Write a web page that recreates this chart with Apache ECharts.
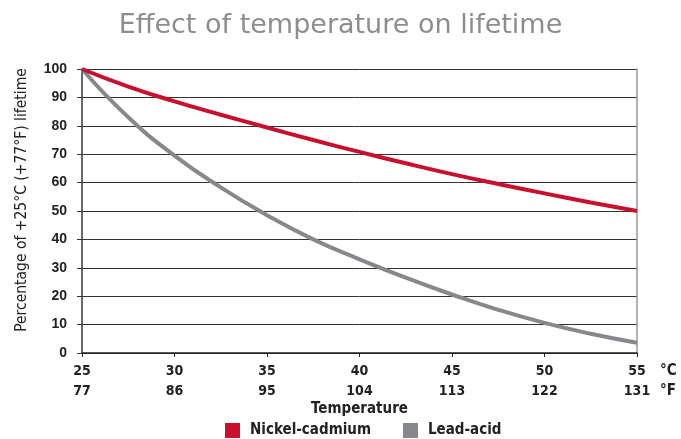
<!DOCTYPE html>
<html>
<head>
<meta charset="utf-8">
<script src="https://cdn.jsdelivr.net/npm/echarts@6/dist/echarts.min.js"></script>
<style>html,body{margin:0;padding:0;background:#fff}#c{width:681px;height:439px}</style>
</head>
<body>
<div id="c"></div>
<script>
var temps = [25, 27.5, 30, 32.5, 35, 37.5, 40, 42.5, 45, 47.5, 50, 52.5, 55];
var nickelCadmium = [100, 93.8, 88.6, 83.9, 79.4, 75.0, 70.8, 66.8, 63.0, 59.5, 56.2, 53.0, 50.0];
var leadAcid = [100, 83.0, 69.5, 58.3, 48.5, 40.0, 33.0, 26.5, 20.6, 15.2, 10.6, 6.8, 3.6];
var tickC = [25, 30, 35, 40, 45, 50, 55];
var tickF = [77, 86, 95, 104, 113, 122, 131];

var FONT = '"Liberation Sans Narrow","DejaVu Sans Condensed","Roboto",sans-serif';
function pairs(ys){ return temps.map(function(t,i){ return [t, ys[i]]; }); }

var chart = echarts.init(document.getElementById('c'));
chart.setOption({
  animation: false,
  title: {
    text: 'Effect of temperature on lifetime',
    left: 'center', top: 7,
    textStyle: { fontFamily: '"DejaVu Sans", sans-serif', fontSize: 27, fontWeight: 'normal', color: '#8c8d90' }
  },
  grid: { left: 82, right: 44, top: 69, bottom: 86 },
  legend: {
    bottom: -4, left: 220, icon: 'rect', itemWidth: 15, itemHeight: 15, itemGap: 32,
    textStyle: { fontFamily: FONT, fontSize: 15, fontWeight: 'bold', color: '#222', padding: [0, 0, 0, 5] },
    data: ['Nickel-cadmium', 'Lead-acid']
  },
  xAxis: {
    type: 'value', min: 25, max: 55, interval: 5,
    name: 'Temperature', nameLocation: 'middle', nameGap: 49, nameMoveOverlap: false,
    nameTextStyle: { fontFamily: FONT, fontSize: 15, fontWeight: 'bold', color: '#222' },
    axisLine: { lineStyle: { color: '#222', width: 1.5 } },
    axisTick: { show: true, length: 4, lineStyle: { color: '#222' } },
    splitLine: { show: false },
    axisLabel: {
      fontFamily: FONT, fontSize: 14, fontWeight: 'bold', color: '#222', lineHeight: 20, margin: 8,
      formatter: function (v) {
        var i = tickC.indexOf(v);
        return i < 0 ? '' : tickC[i] + '\n' + tickF[i];
      }
    }
  },
  yAxis: [{
    type: 'value', min: 0, max: 100, interval: 10,
    name: 'Percentage of +25°C (+77°F) lifetime', nameLocation: 'middle', nameGap: 52, nameMoveOverlap: false,
    nameTextStyle: { fontFamily: FONT, fontSize: 15.5, fontWeight: 'normal', color: '#222', padding: [0, 0, 0, 22] },
    axisLine: { show: true, lineStyle: { color: '#333', width: 1.5 } },
    axisTick: { show: true, length: 5, lineStyle: { color: '#333' } },
    axisLabel: { fontFamily: '"Liberation Sans", Arial, sans-serif', fontSize: 14, fontWeight: 'bold', color: '#222', margin: 15 },
    splitLine: { show: true, lineStyle: { color: '#333', width: 1 } }
  }, {
    type: 'value', min: 0, max: 100, interval: 10, position: 'right',
    axisLine: { show: true, lineStyle: { color: '#999', width: 1.5 } },
    axisTick: { show: false }, axisLabel: { show: false }, splitLine: { show: false }
  }],
  graphic: [{
    type: 'text', left: 660, top: 361,
    style: { text: '°C\n°F', fontFamily: FONT, fontSize: 15, fontWeight: 'bold', fill: '#222', lineHeight: 20 }
  }],
  series: [{
    name: 'Lead-acid', type: 'line', smooth: true, symbol: 'none',
    data: pairs(leadAcid),
    lineStyle: { color: '#87888b', width: 4 }, itemStyle: { color: '#87888b' }
  }, {
    name: 'Nickel-cadmium', type: 'line', smooth: true, symbol: 'none',
    data: pairs(nickelCadmium),
    lineStyle: { color: '#c8102e', width: 4 }, itemStyle: { color: '#c8102e' }
  }]
});
</script>
</body>
</html>
